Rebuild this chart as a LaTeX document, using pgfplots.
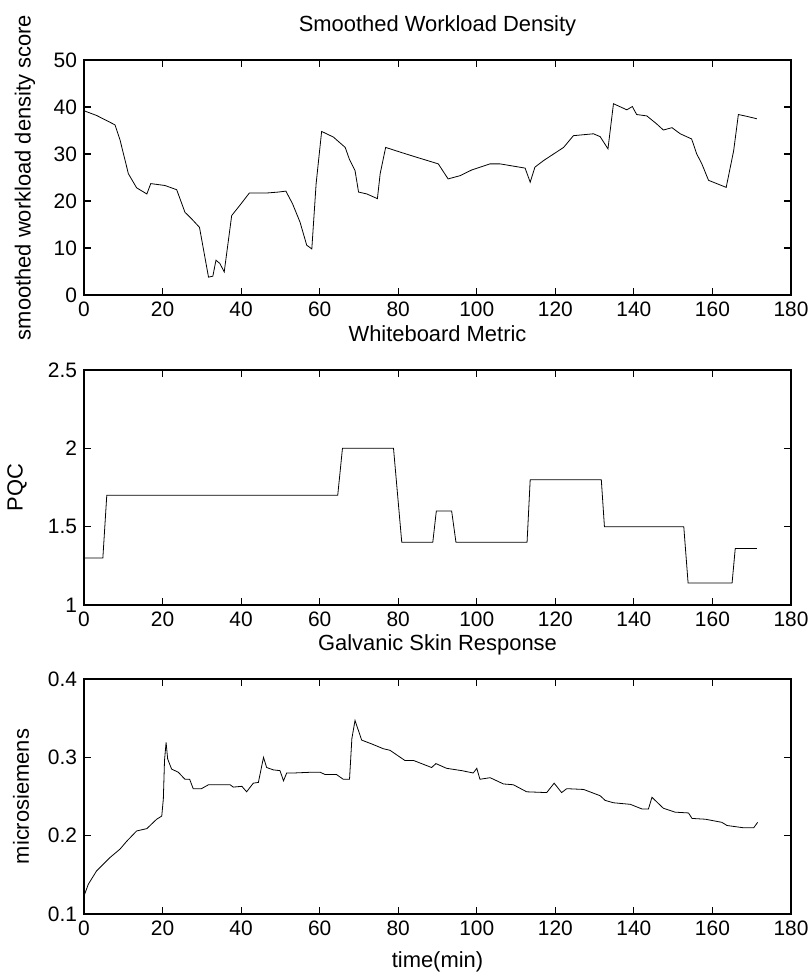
\documentclass[border=0pt]{standalone}
\usepackage{fontspec}
\setmainfont{Liberation Sans}
\usepackage{pgfplots}
\pgfplotsset{compat=1.18}
\pgfplotsset{mstyle/.style={
  scale only axis, width=353.5bp, height=117.5bp,
  xmin=0, xmax=180, xtick={0,20,...,180},
  axis line style={line width=0.75bp},
  tick pos=both,
  tick style={line width=0.6bp, black}, major tick length=3.5bp,
  tick label style={font=\fontsize{10.5}{12}\selectfont},
  /pgf/number format/assume math mode=true,
  label style={font=\fontsize{11}{13}\selectfont},
  title style={font=\fontsize{11}{13}\selectfont, at={(0.5,1)}, anchor=base, yshift=8.5bp},
  cycle list={{black, line width=0.7bp, mark=none}},
  anchor=south west,
}}
\begin{document}
\begin{tikzpicture}
\useasboundingbox (0,0) rectangle (405bp,487bp);
% Panel 1
\begin{axis}[mstyle, at={(42bp,339.5bp)}, ymin=0, ymax=50, ytick={0,10,...,50},
  title={Smoothed Workload Density}, ylabel={smoothed workload density score},
  ylabel style={at={(axis description cs:0,0.5)}, anchor=center, yshift=29.5bp}]
\addplot coordinates {
(0,39.2)(3.2,38.2)(7.9,36.2)(9.2,32.9)(11.3,25.8)(13.4,22.8)(16,21.5)(17,23.7)
(20.6,23.3)(23.6,22.4)(25.7,17.6)(27.4,16.2)(29.4,14.4)(31.7,3.8)(32.8,4.0)
(33.6,7.4)(34.6,6.7)(35.7,4.9)(37.6,16.9)(39.7,19.1)(42.1,21.7)(46.5,21.7)
(49.5,21.9)(51.4,22.1)(53.1,19.4)(55,15.5)(56.7,10.6)(58,9.8)(59.1,23.7)
(60.5,34.8)(63.5,33.6)(66.5,31.4)(67.6,28.8)(69,26.5)(69.9,21.9)(72,21.5)
(74.7,20.5)(75.4,25.8)(76.8,31.4)(80.5,30.4)(84.7,29.3)(90.2,27.9)(92.7,24.7)
(95.8,25.4)(98.7,26.6)(103.4,27.9)(105.9,27.9)(112.3,27.0)(113.6,24.0)(114.8,27.2)
(117,28.6)(122.1,31.4)(124.6,33.9)(129.7,34.3)(131.4,33.7)(133.4,31.1)(134.8,40.7)
(138.2,39.4)(139.6,40.1)(140.7,38.4)(143.3,38.1)(145.8,36.4)(147.5,35.1)(149.7,35.6)
(151.8,34.3)(154.7,33.2)(156,30.0)(157.3,27.9)(159,24.4)(161.1,23.7)(163.5,22.9)
(165.4,30.7)(166.6,38.4)(168.8,38.0)(171.3,37.5)
};
\end{axis}
% Panel 2
\begin{axis}[mstyle, at={(42bp,184.5bp)}, ymin=1, ymax=2.5, ytick={1,1.5,2,2.5},
  title={Whiteboard Metric}, ylabel={PQC},
  ylabel style={at={(axis description cs:0,0.5)}, anchor=center, yshift=33.5bp}]
\addplot coordinates {
(0,1.3)(4.8,1.3)(5.8,1.7)(64.6,1.7)(65.8,2.0)(78.8,2.0)(80.9,1.4)(88.8,1.4)
(89.7,1.6)(93.6,1.6)(94.7,1.4)(112.8,1.4)(113.6,1.8)(131.7,1.8)(132.5,1.5)
(152.7,1.5)(153.8,1.14)(165,1.14)(165.8,1.36)(171.3,1.36)
};
\end{axis}
% Panel 3
\begin{axis}[mstyle, at={(42bp,30bp)}, ymin=0.1, ymax=0.4, ytick={0.1,0.2,0.3,0.4},
  title={Galvanic Skin Response}, ylabel={microsiemens}, xlabel={time(min)},
  ylabel style={at={(axis description cs:0,0.5)}, anchor=center, yshift=31.5bp},
  xlabel style={at={(0.5,0)}, anchor=base, yshift=-27bp},
  yticklabel style={/pgf/number format/fixed, /pgf/number format/precision=1}]
\addplot coordinates {
(0,0.123)(1.1,0.138)(3.2,0.155)(6.6,0.172)(9.2,0.183)(10.9,0.193)(13.4,0.206)
(16,0.209)(18.5,0.221)(19.8,0.225)(20.2,0.247)(20.5,0.296)(20.9,0.319)(21.3,0.298)
(22.3,0.285)(24,0.281)(25.7,0.272)(26.9,0.272)(27.8,0.260)(29.9,0.260)(31.7,0.265)
(37.2,0.265)(38,0.262)(40.2,0.263)(41.4,0.256)(43.1,0.267)(44.4,0.268)(45.7,0.300)
(46.5,0.287)(48.2,0.284)(49.9,0.283)(50.8,0.270)(51.6,0.280)(53.3,0.280)(58,0.281)
(60.1,0.281)(61.4,0.278)(64.3,0.278)(66,0.272)(67.6,0.272)(68.2,0.324)(69,0.347)
(70.7,0.322)(73.3,0.317)(76.2,0.311)(77.9,0.309)(81.7,0.296)(83.9,0.296)(88.5,0.287)
(89.6,0.292)(92.3,0.286)(96.2,0.283)(99.1,0.280)(100,0.286)(100.8,0.272)(103.4,0.274)
(106.8,0.266)(109.3,0.265)(112.7,0.256)(117.8,0.255)(119.7,0.267)(121.6,0.255)
(122.9,0.260)(127.2,0.259)(131.4,0.251)(132.7,0.245)(134.8,0.242)(139.1,0.240)
(142.1,0.234)(143.7,0.234)(144.6,0.249)(147.5,0.235)(150.5,0.230)(153.9,0.229)
(154.8,0.222)(158.2,0.221)(162.4,0.217)(163.7,0.213)(168,0.210)(170.5,0.210)(171.5,0.217)
};
\end{axis}
\end{tikzpicture}
\end{document}
